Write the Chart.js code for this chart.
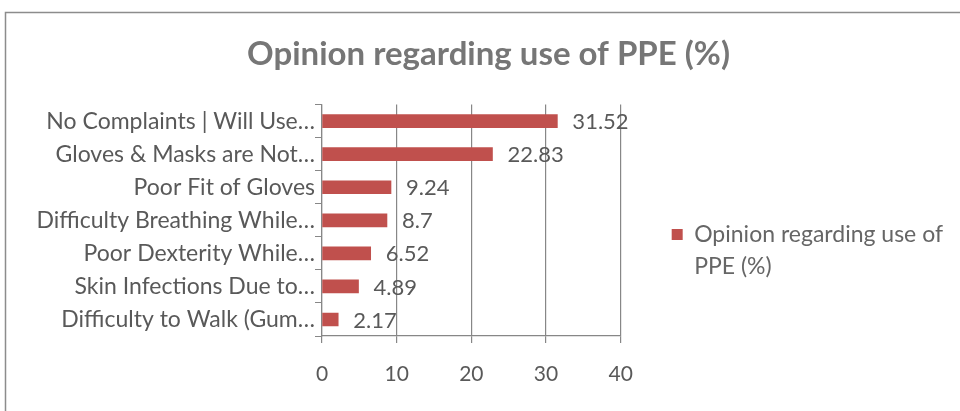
<!DOCTYPE html>
<html>
<head>
<meta charset="utf-8">
<script src="https://cdn.jsdelivr.net/npm/chart.js@4/dist/chart.umd.min.js"></script>
<style>
  body { margin: 0; background: #fff; }
  #wrap { width: 960px; height: 411px; }
</style>
</head>
<body>
<div id="wrap"><canvas id="ppe" width="960" height="411"></canvas></div>
<script>
// 데이터
const categories = [
    'No Complaints | Will Use…',
    'Gloves & Masks are Not…',
    'Poor Fit of Gloves',
    'Difficulty Breathing While…',
    'Poor Dexterity While…',
    'Skin Infections Due to…',
    'Difficulty to Walk (Gum…'
];
const opinionValues = [31.52, 22.83, 9.24, 8.7, 6.52, 4.89, 2.17];
const xTickValues = [0, 10, 20, 30, 40];
const seriesName = 'Opinion regarding use of PPE (%)';
const legendLines = ['Opinion regarding use of', 'PPE (%)'];

const FONT = 'Lato';
const TEXT = '#595959';
const LINE = '#878787';

// 바깥 테두리 (엑셀 차트 영역)
const frame = {
    id: 'frame',
    beforeDraw(chart) {
        const ctx = chart.ctx;
        ctx.save();
        ctx.strokeStyle = '#8c8c8c';
        ctx.lineWidth = 1.5;
        ctx.strokeRect(5.5, 12.5, 1000, 500);
        ctx.restore();
    }
};

// 막대 끝 값 라벨
const valueLabels = {
    id: 'valueLabels',
    afterDatasetsDraw(chart) {
        const ctx = chart.ctx;
        const meta = chart.getDatasetMeta(0);
        ctx.save();
        ctx.font = '22px ' + FONT;
        ctx.fillStyle = TEXT;
        ctx.textAlign = 'left';
        ctx.textBaseline = 'middle';
        meta.data.forEach((bar, i) => {
            ctx.fillText(String(opinionValues[i]), bar.x + 15, bar.y + 1);
        });
        ctx.restore();
    }
};

const ctx = document.getElementById('ppe').getContext('2d');
const ppeChart = new Chart(ctx, {
    type: 'bar',
    data: {
        labels: categories,
        datasets: [{
            label: seriesName,
            data: opinionValues,
            backgroundColor: '#C0504D',
            borderWidth: 0,
            barThickness: 13
        }]
    },
    options: {
        indexAxis: 'y',
        responsive: false,
        animation: false,
        layout: {
            padding: { top: 13, right: 7, bottom: 0, left: 24 }
        },
        scales: {
            x: {
                min: 0,
                max: 40,
                afterBuildTicks: s => { s.ticks = xTickValues.map(v => ({ value: v })); },
                afterFit: s => { s.height = 75; },
                grid: { color: LINE, lineWidth: 1.2, tickLength: 7, tickColor: LINE },
                border: { display: true, color: LINE, width: 1.2 },
                ticks: { color: TEXT, font: { family: FONT, size: 21 }, padding: 19 }
            },
            y: {
                afterFit: s => { s.width = 298; },
                grid: { drawOnChartArea: false, tickLength: 7, tickColor: LINE, offset: true },
                border: { display: true, color: LINE, width: 1.2 },
                ticks: { color: TEXT, font: { family: FONT, size: 23 }, padding: 0, autoSkip: false }
            }
        },
        plugins: {
            title: {
                display: true,
                text: seriesName,
                color: '#767676',
                font: { family: FONT, size: 33, weight: 'bold' },
                padding: { top: 22, bottom: 30 }
            },
            legend: {
                position: 'right',
                align: 'start',
                maxWidth: 400,
                // 빈 제목으로 범례를 아래로 내림
                title: {
                    display: true,
                    text: '',
                    font: { size: 10, lineHeight: 1 },
                    padding: { top: 0, bottom: 149 }
                },
                labels: {
                    boxWidth: 11,
                    boxHeight: 11,
                    padding: 51,
                    color: TEXT,
                    font: { family: FONT, size: 23, lineHeight: 1.4 },
                    generateLabels: () => [{
                        text: legendLines,
                        fillStyle: '#C0504D',
                        strokeStyle: '#C0504D',
                        lineWidth: 0,
                        datasetIndex: 0
                    }]
                }
            },
            tooltip: { enabled: false }
        }
    },
    plugins: [frame, valueLabels]
});
</script>
</body>
</html>
